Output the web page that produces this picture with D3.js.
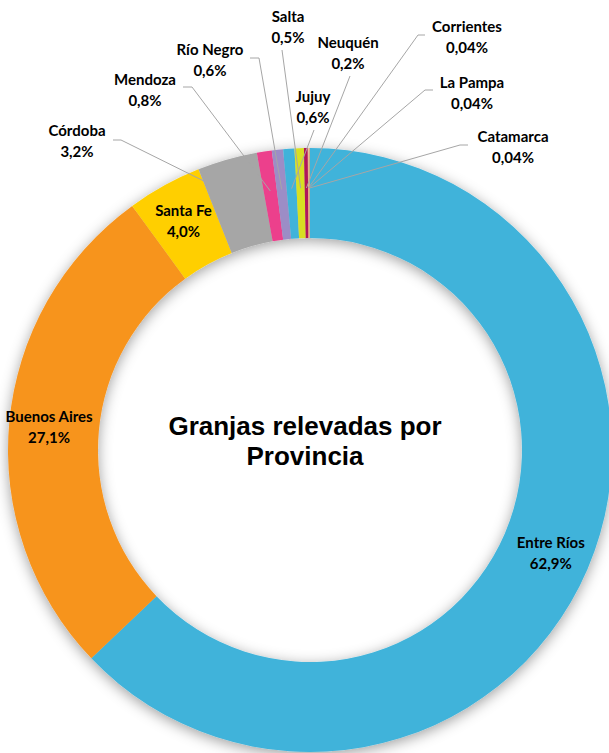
<!DOCTYPE html>
<html>
<head>
<meta charset="utf-8">
<script src="https://cdn.jsdelivr.net/npm/d3@7"></script>
<style>
	body { margin: 0; background: #fff; }
	svg { display: block; }
</style>
</head>
<body>
<div id="chart"></div>
<script>
// Data
const provinces = ["Entre Ríos", "Buenos Aires", "Santa Fe", "Córdoba", "Mendoza", "Río Negro", "Jujuy", "Salta", "Neuquén", "Corrientes", "La Pampa", "Catamarca"];
const shares = [62.9, 27.1, 4.0, 3.2, 0.8, 0.6, 0.6, 0.5, 0.2, 0.04, 0.04, 0.04];
const shareLabels = ["62,9%", "27,1%", "4,0%", "3,2%", "0,8%", "0,6%", "0,6%", "0,5%", "0,2%", "0,04%", "0,04%", "0,04%"];
const titleLines = ["Granjas relevadas por", "Provincia"];

// Styling
const colors = ["#3FB3DA", "#F7941E", "#FFCF01", "#A6A6A6", "#EC3F8C", "#9C8DC6", "#3FB3DA", "#D7DF23", "#B0135A", "#F58A5A", "#E8C9A0", "#C8A070"];
const insideLabels = ["Entre Ríos", "Buenos Aires", "Santa Fe"];

// Manually placed outside labels: label centre and start of leader line
const outsideLayout = {
	"Córdoba":    { x: 77,  y: 131, lx: [113, 121], ly: 140 },
	"Mendoza":    { x: 145, y: 80,  lx: [183, 192], ly: 87 },
	"Río Negro":  { x: 210, y: 50,  lx: [250, 259], ly: 58 },
	"Salta":      { x: 288, y: 17,  lx: [282, 282], ly: 50 },
	"Neuquén":    { x: 348, y: 43,  lx: [350, 350], ly: 76 },
	"Jujuy":      { x: 313, y: 97,  lx: [314, 314], ly: 130 },
	"Corrientes": { x: 467, y: 27,  lx: [425, 418], ly: 35 },
	"La Pampa":   { x: 472, y: 83,  lx: [433, 425], ly: 90 },
	"Catamarca":  { x: 513, y: 137, lx: [468, 460], ly: 145 }
};

const width = 609, height = 753;
const cx = 310, cy = 450;
const outerR = 302, innerR = 212;

const svg = d3.select("#chart").append("svg")
	.attr("width", width)
	.attr("height", height);

const defs = svg.append("defs");
const shadow = defs.append("filter")
	.attr("id", "ringShadow")
	.attr("x", "-20%").attr("y", "-20%")
	.attr("width", "140%").attr("height", "140%");
shadow.append("feDropShadow")
	.attr("dx", 0)
	.attr("dy", 3)
	.attr("stdDeviation", 7)
	.attr("flood-color", "#000")
	.attr("flood-opacity", 0.38);

const data = provinces.map((name, i) => ({ name, value: shares[i], label: shareLabels[i], color: colors[i] }));

const pie = d3.pie()
	.sort(null)
	.value(d => d.value);

const arc = d3.arc()
	.innerRadius(innerR)
	.outerRadius(outerR);

const midArc = d3.arc()
	.innerRadius((innerR + outerR) / 2 + 5)
	.outerRadius((innerR + outerR) / 2 + 5);

const arcs = pie(data);

const g = svg.append("g")
	.attr("transform", `translate(${cx}, ${cy})`);

g.append("g")
	.attr("filter", "url(#ringShadow)")
	.selectAll("path")
	.data(arcs)
	.join("path")
	.attr("d", arc)
	.attr("fill", d => d.data.color);

// Leader lines for the small slices
const outside = arcs.filter(d => outsideLayout[d.data.name]);

svg.append("g")
	.selectAll("polyline")
	.data(outside)
	.join("polyline")
	.attr("fill", "none")
	.attr("stroke", "#A6A6A6")
	.attr("stroke-width", 1)
	.attr("points", d => {
		const p = outsideLayout[d.data.name];
		const [ex, ey] = midArc.centroid(d);
		return [[p.lx[0], p.ly], [p.lx[1], p.ly], [cx + ex, cy + ey]].map(q => q.join(",")).join(" ");
	});

// Labels
const labelFont = "Lato, 'Open Sans', sans-serif";

function drawLabel(x, y, d) {
	const t = svg.append("text")
		.attr("x", x)
		.attr("y", y)
		.attr("text-anchor", "middle")
		.attr("font-family", labelFont)
		.attr("font-weight", "bold")
		.attr("font-size", "15px")
		.attr("fill", "#000");
	t.append("tspan").attr("x", x).attr("dy", "0.35em").text(d.data.name);
	t.append("tspan").attr("x", x).attr("dy", "1.4em").text(d.data.label);
}

arcs.forEach(d => {
	if (insideLabels.includes(d.data.name)) {
		const [x, y] = midArc.centroid(d);
		drawLabel(cx + x, cy + y - 10, d);
	} else {
		const p = outsideLayout[d.data.name];
		drawLabel(p.x, p.y, d);
	}
});

// Title in the hole
const title = svg.append("text")
	.attr("text-anchor", "middle")
	.attr("font-family", "'Liberation Sans', Arial, sans-serif")
	.attr("font-weight", "bold")
	.attr("font-size", "26px")
	.attr("fill", "#000");

titleLines.forEach((line, i) => {
	title.append("tspan")
		.attr("x", 305)
		.attr("y", 435 + i * 30)
		.text(line);
});
</script>
</body>
</html>
